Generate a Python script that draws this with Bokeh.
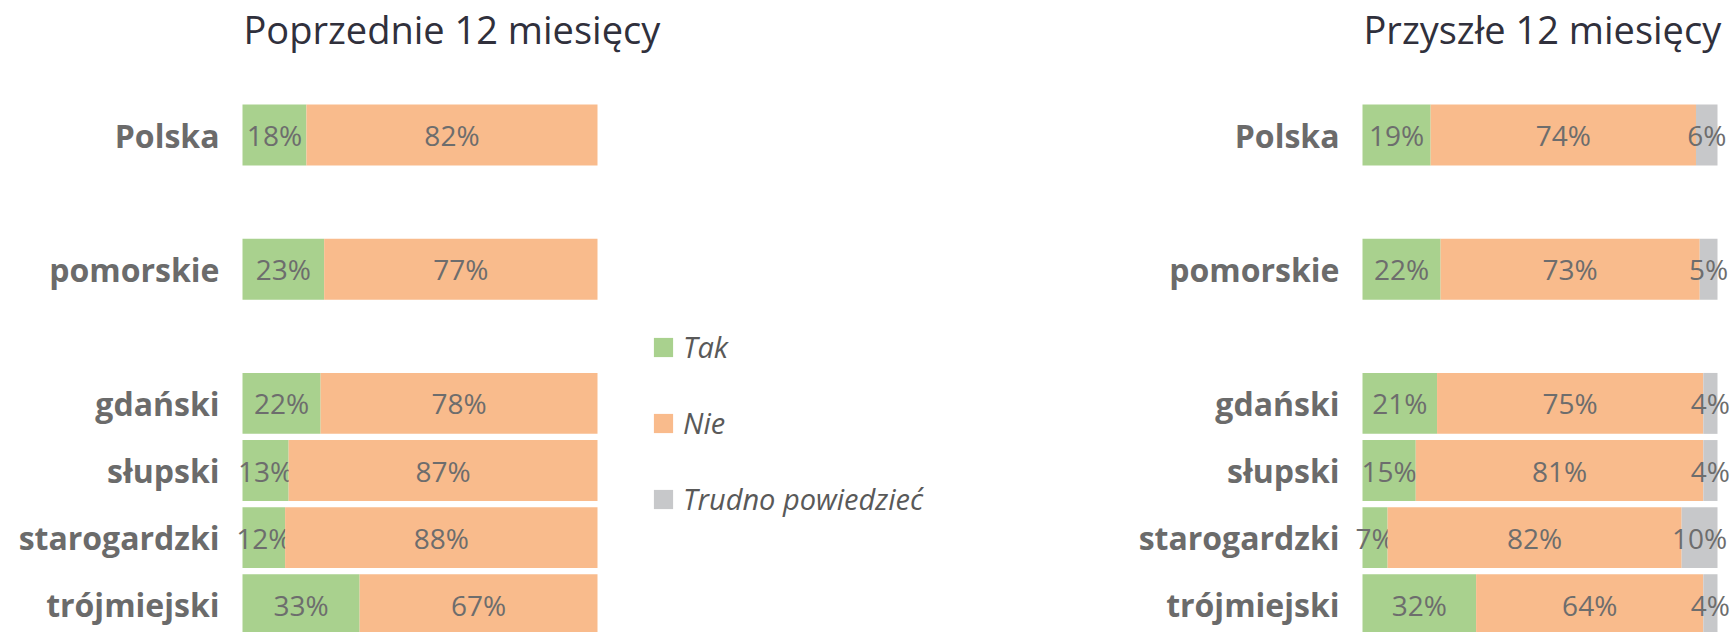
from bokeh.plotting import figure
from bokeh.models import Range1d, FixedTicker, Legend, LegendItem, ColumnDataSource
from bokeh.layouts import row
from bokeh.embed import file_html
from bokeh.resources import INLINE
from bokeh.core.properties import value

# ---------------- data ----------------
categories = ["Polska", "pomorskie", "gdański", "słupski", "starogardzki", "trójmiejski"]
series_names = ["Tak", "Nie", "Trudno powiedzieć"]
title_left = "Poprzednie 12 miesięcy"
title_right = "Przyszłe 12 miesięcy"

prev_tak = [18, 23, 22, 13, 12, 33]
prev_nie = [82, 77, 78, 87, 88, 67]

next_tak = [19, 22, 21, 15, 7, 32]
next_nie = [74, 73, 75, 81, 82, 64]
next_trudno = [6, 5, 4, 4, 10, 4]

# ---------------- layout / style ----------------
row_pos = [0, 2, 4, 5, 6, 7]          # vertical slots (gaps after Polska and pomorskie)
COLORS = ["#a9d18e", "#f9bb8c", "#c7c8ca"]
LABEL_COLOR = "#6b6b6b"
VALUE_COLOR = "#6d6d6d"
TITLE_COLOR = "#30303c"

FIG_H = 632
BORDER_TOP = 54
UNIT_PX = 67.1
FIRST_ROW_PX = 134.5                  # centre of first row, from figure top
FRAME_H = FIG_H - BORDER_TOP
TOP_PAD = (FIRST_ROW_PX - BORDER_TOP) / UNIT_PX
Y_TOP = -TOP_PAD
Y_BOTTOM = FRAME_H / UNIT_PX - TOP_PAD
BAR_H = 0.908

BAR_PX = 355.0
PAD_L = 22


def make_panel(title, series, width, border_left, frame_w):
    totals = [sum(v) for v in zip(*series)]
    x_start = -PAD_L / BAR_PX
    x_end = (frame_w - PAD_L) / BAR_PX
    p = figure(width=width, height=FIG_H, output_backend="svg", toolbar_location=None,
               x_range=Range1d(x_start, x_end), y_range=Range1d(Y_BOTTOM, Y_TOP),
               x_axis_location=None, y_axis_location="left",
               min_border_left=border_left, min_border_right=width - border_left - frame_w,
               min_border_top=BORDER_TOP, min_border_bottom=0, title=title)
    p.outline_line_color = None
    p.grid.visible = False
    p.background_fill_color = "white"
    p.border_fill_color = "white"

    p.title.text_font = "Open Sans"
    p.title.text_font_size = "38px"
    p.title.text_font_style = "normal"
    p.title.text_color = TITLE_COLOR
    p.title.align = "left"
    p.title.offset = PAD_L + 1
    p.title.standoff = 0

    ax = p.yaxis[0]
    ax.ticker = FixedTicker(ticks=row_pos)
    ax.major_label_overrides = {pos: cat for pos, cat in zip(row_pos, categories)}
    ax.axis_line_color = None
    ax.major_tick_line_color = None
    ax.minor_tick_line_color = None
    ax.major_tick_in = 0
    ax.major_tick_out = 0
    ax.major_label_standoff = 1
    ax.major_label_text_font = "Open Sans"
    ax.major_label_text_font_size = "32px"
    ax.major_label_text_font_style = "bold"
    ax.major_label_text_color = LABEL_COLOR

    renderers = []
    cum = [0.0] * len(categories)
    for i, vals in enumerate(series):
        left = [c / t for c, t in zip(cum, totals)]
        cum = [c + v for c, v in zip(cum, vals)]
        right = [c / t for c, t in zip(cum, totals)]
        src = ColumnDataSource(dict(
            y=row_pos, left=left, right=right,
            mid=[(a + b) / 2 for a, b in zip(left, right)],
            label=[f"{v}%" for v in vals]))
        r = p.hbar(y="y", left="left", right="right", height=BAR_H, source=src,
                   fill_color=COLORS[i], line_color=None)
        renderers.append(r)
        p.text(x="mid", y="y", text="label", source=src, text_align="center",
               text_baseline="middle", text_font=value("Open Sans"),
               text_font_size="28px", text_color=VALUE_COLOR)
    return p, renderers


W1 = 1000
W2 = 1734 - W1
LEFT_FRAME_X = 220
RIGHT_FRAME_X = 1340
p1, r1 = make_panel(title_left, [prev_tak, prev_nie], W1, LEFT_FRAME_X, W1 - LEFT_FRAME_X)
p2, r2 = make_panel(title_right, [next_tak, next_nie, next_trudno], W2,
                    RIGHT_FRAME_X - W1, W2 - (RIGHT_FRAME_X - W1))

# swatch renderer for the category absent from the left panel (draws nothing)
nan = float("nan")
r_grey = p1.hbar(y=[nan], left=[nan], right=[nan], height=BAR_H,
                 fill_color=COLORS[2], line_color=None)

legend = Legend(items=[LegendItem(label=series_names[0], renderers=[r1[0]]),
                       LegendItem(label=series_names[1], renderers=[r1[1]]),
                       LegendItem(label=series_names[2], renderers=[r_grey])],
                location=(651 - LEFT_FRAME_X, 114), orientation="vertical")
legend.glyph_width = 24
legend.glyph_height = 24
legend.label_height = 30
legend.spacing = 37
legend.padding = 0
legend.margin = 0
legend.label_standoff = 8
legend.border_line_color = None
legend.background_fill_alpha = 0
legend.label_text_font = "Open Sans"
legend.label_text_font_size = "29px"
legend.label_text_font_style = "italic"
legend.label_text_color = "#595959"
p1.add_layout(legend)

layout = row(p1, p2)
open("out.html", "w").write(file_html(layout, INLINE))
